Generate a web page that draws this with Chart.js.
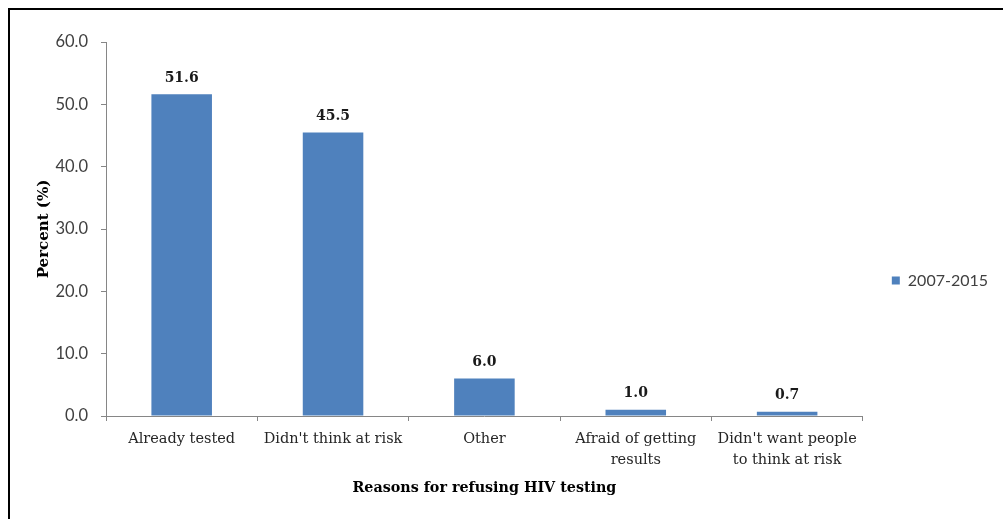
<!DOCTYPE html>
<html>
<head>
<meta charset="utf-8">
<script src="https://cdn.jsdelivr.net/npm/chart.js@4.4.0/dist/chart.umd.min.js"></script>
<style>
  html, body { margin: 0; padding: 0; background: #fff; overflow: hidden; }
  #wrap { width: 1003px; height: 519px; position: relative; }
</style>
</head>
<body>
<div id="wrap"><canvas id="c" width="1003" height="519"></canvas></div>
<script>
const categories = [
  "Already tested",
  "Didn't think at risk",
  "Other",
  ["Afraid of getting", "results"],
  ["Didn't want people", "to think at risk"]
];
const seriesName = "2007-2015";
const values = [51.6, 45.5, 6.0, 1.0, 0.7];
const yTicks = [0, 10, 20, 30, 40, 50, 60];

const serif = "'DejaVu Serif', 'Liberation Serif', serif";
const sans = "Lato, 'Liberation Sans', sans-serif";

const frame = {
  id: 'frame',
  afterDraw(chart) {
    const ctx = chart.ctx;
    ctx.save();
    ctx.strokeStyle = '#000';
    ctx.lineWidth = 2;
    ctx.beginPath();
    ctx.moveTo(9, 519);
    ctx.lineTo(9, 9);
    ctx.lineTo(1003, 9);
    ctx.stroke();
    ctx.restore();
  }
};

const valueLabels = {
  id: 'valueLabels',
  afterDatasetsDraw(chart) {
    const ctx = chart.ctx;
    ctx.save();
    ctx.font = "bold 14px " + serif;
    ctx.fillStyle = '#1a1a1a';
    ctx.textAlign = 'center';
    ctx.textBaseline = 'bottom';
    chart.getDatasetMeta(0).data.forEach((bar, i) => {
      ctx.fillText(values[i].toFixed(1), bar.x, bar.y - 9);
    });
    ctx.restore();
  }
};

new Chart(document.getElementById('c'), {
  type: 'bar',
  data: {
    labels: categories,
    datasets: [{
      label: seriesName,
      data: values,
      backgroundColor: '#4F81BD',
      borderWidth: 0,
      barPercentage: 0.4,
      categoryPercentage: 1.0
    }]
  },
  options: {
    responsive: false,
    animation: false,
    devicePixelRatio: 1,
    layout: { padding: { top: 42, right: 5, bottom: 0, left: 0 } },
    plugins: {
      tooltip: { enabled: false },
      legend: {
        position: 'right',
        align: 'center',
        labels: {
          boxWidth: 8,
          boxHeight: 8,
          padding: 29,
          color: '#404040',
          font: { family: sans, size: 16 }
        }
      }
    },
    scales: {
      x: {
        afterFit(s) { s.height = 103; },
        grid: {
          display: true,
          drawOnChartArea: false,
          drawTicks: true,
          tickLength: 5,
          color: '#868686',
          offset: true
        },
        border: { display: true, color: '#868686', width: 1 },
        ticks: {
          color: '#262626',
          padding: 8,
          maxRotation: 0,
          autoSkip: false,
          font: { family: serif, size: 14.5, lineHeight: 1.45 }
        },
        title: {
          display: true,
          text: 'Reasons for refusing HIV testing',
          color: '#000',
          font: { family: serif, size: 14.3, weight: 'bold' },
          padding: { top: 0, bottom: 22 }
        }
      },
      y: {
        min: 0,
        max: 60,
        afterFit(s) { s.width = 106; },
        afterBuildTicks(s) { s.ticks = yTicks.map(v => ({ value: v })); },
        grid: {
          display: true,
          drawOnChartArea: false,
          drawTicks: true,
          tickLength: 5,
          color: '#868686'
        },
        border: { display: true, color: '#868686', width: 1 },
        ticks: {
          color: '#404040',
          padding: 13,
          font: { family: sans, size: 16.5 },
          callback: (v) => Number(v).toFixed(1)
        },
        title: {
          display: true,
          text: 'Percent (%)',
          color: '#000',
          font: { family: serif, size: 15, weight: 'bold' },
          padding: { top: 35, bottom: 0 }
        }
      }
    }
  },
  plugins: [frame, valueLabels]
});
</script>
</body>
</html>
